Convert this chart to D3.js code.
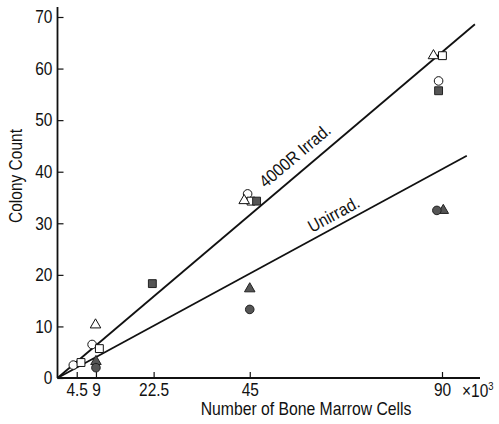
<!DOCTYPE html>
<html>
<head>
<meta charset="utf-8">
<script src="https://cdn.jsdelivr.net/npm/d3@7"></script>
<style>
  html, body { margin: 0; padding: 0; background: #fff; }
  svg { display: block; }
  text { font-family: "Liberation Sans", Arial, sans-serif; fill: #111; }
</style>
</head>
<body>
<script>
// Colony counts against number of bone marrow cells (x10^3)
const xTicks = [4.5, 9, 22.5, 45, 90];
const xTickLabels = ["4.5", "9", "22.5", "45", "90"];
const yTicks = [0, 10, 20, 30, 40, 50, 60, 70];

// [cells, colonies] for each symbol
const openCircle   = [[3.7, 2.5], [8.1, 6.5], [44.5, 35.7], [89.2, 57.6]];
const openSquare   = [[5.5, 3.0], [9.8, 5.7], [45.3, 34.3], [90.1, 62.5]];
const openTriangle = [[8.9, 10.3], [43.7, 34.4], [88.0, 62.5]];
const filledSquare = [[22.2, 18.3], [46.6, 34.3], [89.2, 55.7]];
const filledTriangle = [[9.0, 3.2], [45.0, 17.3], [90.3, 32.5]];
const filledCircle = [[9.0, 2.0], [45.0, 13.3], [88.8, 32.5]];

// Fitted lines: [start, end] points
const irradLine   = [[0, 0], [97.7, 68.6]];
const unirradLine = [[0, 0], [95.8, 43.1]];

const W = 499, H = 424;
const NARROW = "scale(0.86,1)";   // condensed lettering
const svg = d3.select("body").append("svg").attr("width", W).attr("height", H);

const x = d3.scaleLinear().domain([0, 90]).range([57.5, 442]);
const y = d3.scaleLinear().domain([0, 70]).range([378, 17]);

// Axes
const yAxis = d3.axisLeft(y).tickValues(yTicks).tickSizeInner(-6).tickSizeOuter(0).tickPadding(6)
  .tickFormat(d3.format("d"));
const gy = svg.append("g").attr("transform", `translate(${x(0)},0)`).call(yAxis);
gy.select(".domain").remove();
gy.selectAll(".tick line").attr("stroke", "#111").attr("stroke-width", 1.2);
gy.selectAll(".tick text").attr("font-size", 18).attr("x", -6).attr("transform", NARROW);

const xAxis = d3.axisBottom(x).tickValues(xTicks).tickSizeInner(-6).tickSizeOuter(0).tickPadding(6)
  .tickFormat((d, i) => xTickLabels[i]);
const gx = svg.append("g").attr("transform", `translate(0,${y(0)})`).call(xAxis);
gx.select(".domain").remove();
gx.selectAll(".tick line").attr("stroke", "#111").attr("stroke-width", 1.2);
gx.selectAll(".tick text").attr("font-size", 18).attr("y", 18).attr("dy", 0).attr("transform", NARROW);

// axis lines
svg.append("line").attr("x1", x(0)).attr("x2", x(0)).attr("y1", y(0)).attr("y2", 7)
  .attr("stroke", "#111").attr("stroke-width", 1.8);
svg.append("line").attr("x1", x(0)).attr("x2", 480).attr("y1", y(0)).attr("y2", y(0))
  .attr("stroke", "#111").attr("stroke-width", 1.8);

// unit label next to the last tick
const unit = svg.append("text").attr("transform", `translate(${x(90) + 20},${y(0) + 19}) ${NARROW}`)
  .attr("font-size", 18);
unit.append("tspan").text("\u00d710");
unit.append("tspan").attr("font-size", 11).attr("dy", -7).text("3");

// axis titles
svg.append("text").attr("transform", `translate(306,415) scale(0.9,1)`).attr("text-anchor", "middle")
  .attr("font-size", 17.5).text("Number of Bone Marrow Cells");
svg.append("text").attr("transform", `translate(22,176) rotate(-90) scale(0.84,1)`).attr("text-anchor", "middle")
  .attr("font-size", 18.5).text("Colony Count");

// regression lines
const line = d3.line().x(d => x(d[0])).y(d => y(d[1]));
[irradLine, unirradLine].forEach(l => {
  svg.append("path").attr("d", line(l)).attr("fill", "none").attr("stroke", "#111").attr("stroke-width", 1.8);
});

// line labels placed along each line
function lineLabel(l, at, text, off) {
  const [p0, p1] = l;
  const slope = (p1[1] - p0[1]) / (p1[0] - p0[0]);
  const px = x(at), py = y(p0[1] + slope * (at - p0[0]));
  const ang = Math.atan2(y(p1[1]) - y(p0[1]), x(p1[0]) - x(p0[0])) * 180 / Math.PI;
  svg.append("text").attr("transform", `translate(${px},${py}) rotate(${ang}) scale(0.9,1)`)
    .attr("y", off).attr("text-anchor", "middle").attr("font-size", 17.5).text(text);
}
lineLabel(irradLine, 58, "4000R Irrad.", -10);
lineLabel(unirradLine, 66, "Unirrad.", -6);

// markers
const sym = {
  circle: d3.symbol().type(d3.symbolCircle).size(58),
  square: d3.symbol().type(d3.symbolSquare).size(62),
  triangle: d3.symbol().type(d3.symbolTriangle).size(48)
};
function drawSeries(data, shape, filled) {
  svg.append("g").selectAll("path").data(data).join("path")
    .attr("transform", d => `translate(${x(d[0])},${y(d[1])})`)
    .attr("d", sym[shape])
    .attr("fill", filled ? "#555" : "#fff")
    .attr("stroke", filled ? "#222" : "#111")
    .attr("stroke-width", 1);
}
drawSeries(openCircle, "circle", false);
drawSeries(openSquare, "square", false);
drawSeries(openTriangle, "triangle", false);
drawSeries(filledSquare, "square", true);
drawSeries(filledTriangle, "triangle", true);
drawSeries(filledCircle, "circle", true);
</script>
</body>
</html>
